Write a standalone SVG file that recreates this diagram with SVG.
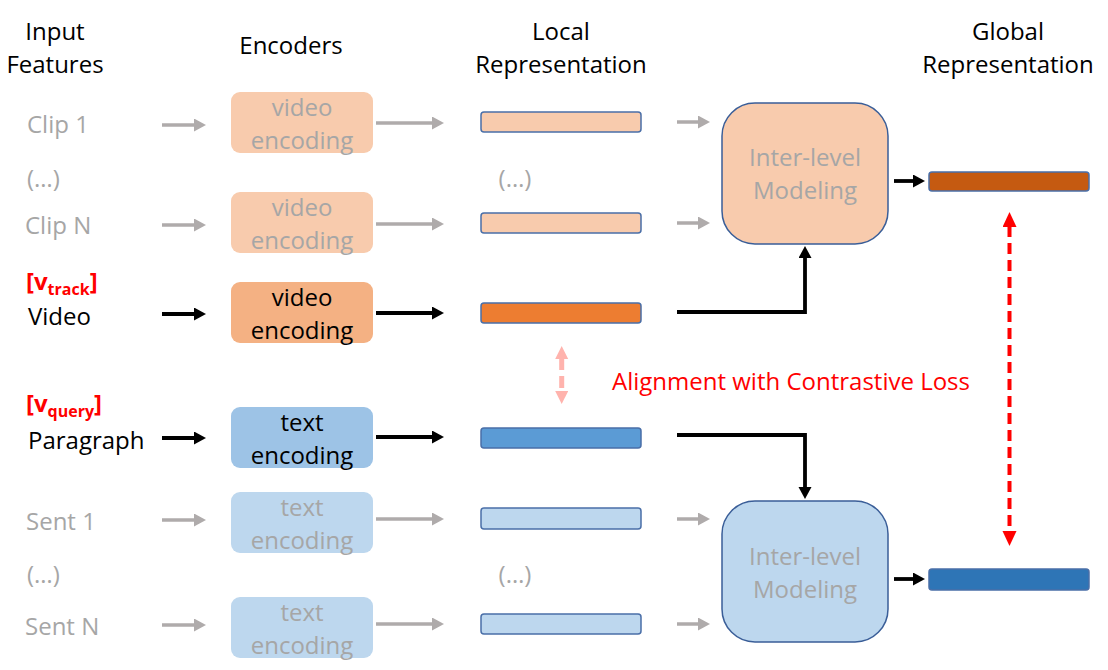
<svg xmlns="http://www.w3.org/2000/svg" width="1108" height="670" viewBox="0 0 1108 670">
<defs>
<style>
text{font-family:"Open Sans","Liberation Sans",sans-serif;font-size:24px}
.hd{fill:#000;text-anchor:middle}
.lbl{fill:#000}
.gl{fill:#a6a6a6}
.red{fill:#ff0000;font-weight:bold}
.sub{font-size:16px}
.ct{text-anchor:middle}
.enc{stroke:none}
.bar{stroke:#4a6fa8;stroke-width:1.5}
.im{stroke:#3a5e98;stroke-width:1.5}
.ga{stroke:#afabab;stroke-width:3.5;fill:none;marker-end:url(#hg)}
.ba{stroke:#000;stroke-width:3.8;fill:none;marker-end:url(#hb)}
</style>
<marker id="hg" markerUnits="userSpaceOnUse" markerWidth="14" markerHeight="14" refX="1" refY="6.5" orient="auto"><path d="M0,0 L12,6.5 L0,13 z" fill="#afabab"/></marker>
<marker id="hb" markerUnits="userSpaceOnUse" markerWidth="14" markerHeight="14" refX="1" refY="6.5" orient="auto"><path d="M0,0 L12,6.5 L0,13 z" fill="#000"/></marker>
<marker id="hr" markerUnits="userSpaceOnUse" markerWidth="16" markerHeight="16" refX="1" refY="7" orient="auto-start-reverse"><path d="M0,0 L15,7 L0,14 z" fill="#ff0000"/></marker>
<marker id="hp" markerUnits="userSpaceOnUse" markerWidth="16" markerHeight="16" refX="1" refY="6.5" orient="auto-start-reverse"><path d="M0,0 L13,6.5 L0,13 z" fill="#ffb3ad"/></marker>
</defs>
<rect width="1108" height="670" fill="#fff"/>

<g id="headers">
<text class="hd" x="55" y="40">Input</text>
<text class="hd" x="55" y="73">Features</text>
<text class="hd" x="291" y="54">Encoders</text>
<text class="hd" x="561" y="40">Local</text>
<text class="hd" x="561" y="73">Representation</text>
<text class="hd" x="1008" y="40">Global</text>
<text class="hd" x="1008" y="73">Representation</text>
</g>

<g id="inputs">
<text class="gl" x="27" y="133">Clip 1</text>
<text class="gl" x="27" y="187">(…)</text>
<text class="gl" x="25" y="234">Clip N</text>
<text class="red" x="26" y="290">[v<tspan class="sub" dy="5">track</tspan><tspan dy="-5">]</tspan></text>
<text class="lbl" x="28" y="325">Video</text>
<text class="red" x="26" y="412">[v<tspan class="sub" dy="5">query</tspan><tspan dy="-5">]</tspan></text>
<text class="lbl" x="28" y="449">Paragraph</text>
<text class="gl" x="26" y="530">Sent 1</text>
<text class="gl" x="27" y="583">(…)</text>
<text class="gl" x="25" y="635">Sent N</text>
</g>

<g id="enc-clip1"><rect class="enc" x="231" y="92" width="142" height="61" rx="9" fill="#f8cbad"/><text class="gl ct" x="302" y="116">video</text><text class="gl ct" x="302" y="149">encoding</text></g>
<g id="enc-clipN"><rect class="enc" x="231" y="192" width="142" height="61" rx="9" fill="#f8cbad"/><text class="gl ct" x="302" y="216">video</text><text class="gl ct" x="302" y="249">encoding</text></g>
<g id="enc-video"><rect class="enc" x="231" y="282" width="142" height="61" rx="9" fill="#f4b183"/><text class="lbl ct" x="302" y="306">video</text><text class="lbl ct" x="302" y="339">encoding</text></g>
<g id="enc-para"><rect class="enc" x="231" y="407" width="142" height="61" rx="9" fill="#9dc3e6"/><text class="lbl ct" x="302" y="431">text</text><text class="lbl ct" x="302" y="464">encoding</text></g>
<g id="enc-sent1"><rect class="enc" x="231" y="492" width="142" height="61" rx="9" fill="#bdd7ee"/><text class="gl ct" x="302" y="516">text</text><text class="gl ct" x="302" y="549">encoding</text></g>
<g id="enc-sentN"><rect class="enc" x="231" y="597" width="142" height="61" rx="9" fill="#bdd7ee"/><text class="gl ct" x="302" y="621">text</text><text class="gl ct" x="302" y="654">encoding</text></g>

<g id="local-clip1"><rect class="bar" x="481" y="112" width="160" height="20" rx="3" fill="#f8cbad"/></g>
<g id="local-dots-top"><text class="gl ct" x="515" y="187">(…)</text></g>
<g id="local-clipN"><rect class="bar" x="481" y="213" width="160" height="20" rx="3" fill="#f8cbad"/></g>
<g id="local-video"><rect class="bar" x="481" y="303" width="160" height="20" rx="3" fill="#ed7d31"/></g>
<g id="local-para"><rect class="bar" x="481" y="428" width="160" height="20" rx="3" fill="#5b9bd5"/></g>
<g id="local-sent1"><rect class="bar" x="481" y="508" width="160" height="21" rx="3" fill="#bdd7ee"/></g>
<g id="local-dots-bot"><text class="gl ct" x="515" y="583">(…)</text></g>
<g id="local-sentN"><rect class="bar" x="481" y="614" width="160" height="20" rx="3" fill="#bdd7ee"/></g>

<g id="inter-video"><rect class="im" x="722" y="103" width="166" height="141" rx="33" fill="#f8cbad"/><text class="gl ct" x="805" y="166">Inter-level</text><text class="gl ct" x="805" y="199">Modeling</text></g>
<g id="inter-text"><rect class="im" x="722" y="501" width="166" height="141" rx="33" fill="#bdd7ee"/><text class="gl ct" x="805" y="565">Inter-level</text><text class="gl ct" x="805" y="598">Modeling</text></g>

<g id="global-video"><rect class="bar" x="929" y="172" width="160" height="19" rx="3" fill="#c55a11"/></g>
<g id="global-text"><rect class="bar" x="929" y="569" width="160" height="21" rx="3" fill="#2e75b6"/></g>

<g id="alignment-label"><text x="612" y="390" fill="#ff0000">Alignment with Contrastive Loss</text></g>

<g id="connectors">
<line class="ga" x1="162" y1="125" x2="195" y2="125"/>
<line class="ga" x1="162" y1="225" x2="195" y2="225"/>
<line class="ba" x1="162" y1="314" x2="195" y2="314"/>
<line class="ba" x1="162" y1="438" x2="195" y2="438"/>
<line class="ga" x1="162" y1="520" x2="195" y2="520"/>
<line class="ga" x1="162" y1="625" x2="195" y2="625"/>

<line class="ga" x1="376" y1="123" x2="433" y2="123"/>
<line class="ga" x1="376" y1="224" x2="433" y2="224"/>
<line class="ba" x1="376" y1="313" x2="433" y2="313"/>
<line class="ba" x1="376" y1="437" x2="433" y2="437"/>
<line class="ga" x1="376" y1="519" x2="433" y2="519"/>
<line class="ga" x1="376" y1="624" x2="433" y2="624"/>

<line class="ga" x1="677" y1="122" x2="699" y2="122"/>
<line class="ga" x1="677" y1="223" x2="699" y2="223"/>
<line class="ga" x1="677" y1="519" x2="699" y2="519"/>
<line class="ga" x1="677" y1="624" x2="699" y2="624"/>

<polyline class="ba" points="677,312 805,312 805,257"/>
<polyline class="ba" points="677,435 805,435 805,488"/>

<line class="ba" x1="894" y1="181" x2="914" y2="181"/>
<line class="ba" x1="894" y1="579" x2="914" y2="579"/>

<line x1="1009.5" y1="226" x2="1009.5" y2="532" stroke="#ff0000" stroke-width="4" stroke-dasharray="11 6" marker-start="url(#hr)" marker-end="url(#hr)"/>
<line x1="561.7" y1="358" x2="561.7" y2="392" stroke="#ffb3ad" stroke-width="5" stroke-dasharray="12 6" marker-start="url(#hp)" marker-end="url(#hp)"/>
</g>
</svg>
